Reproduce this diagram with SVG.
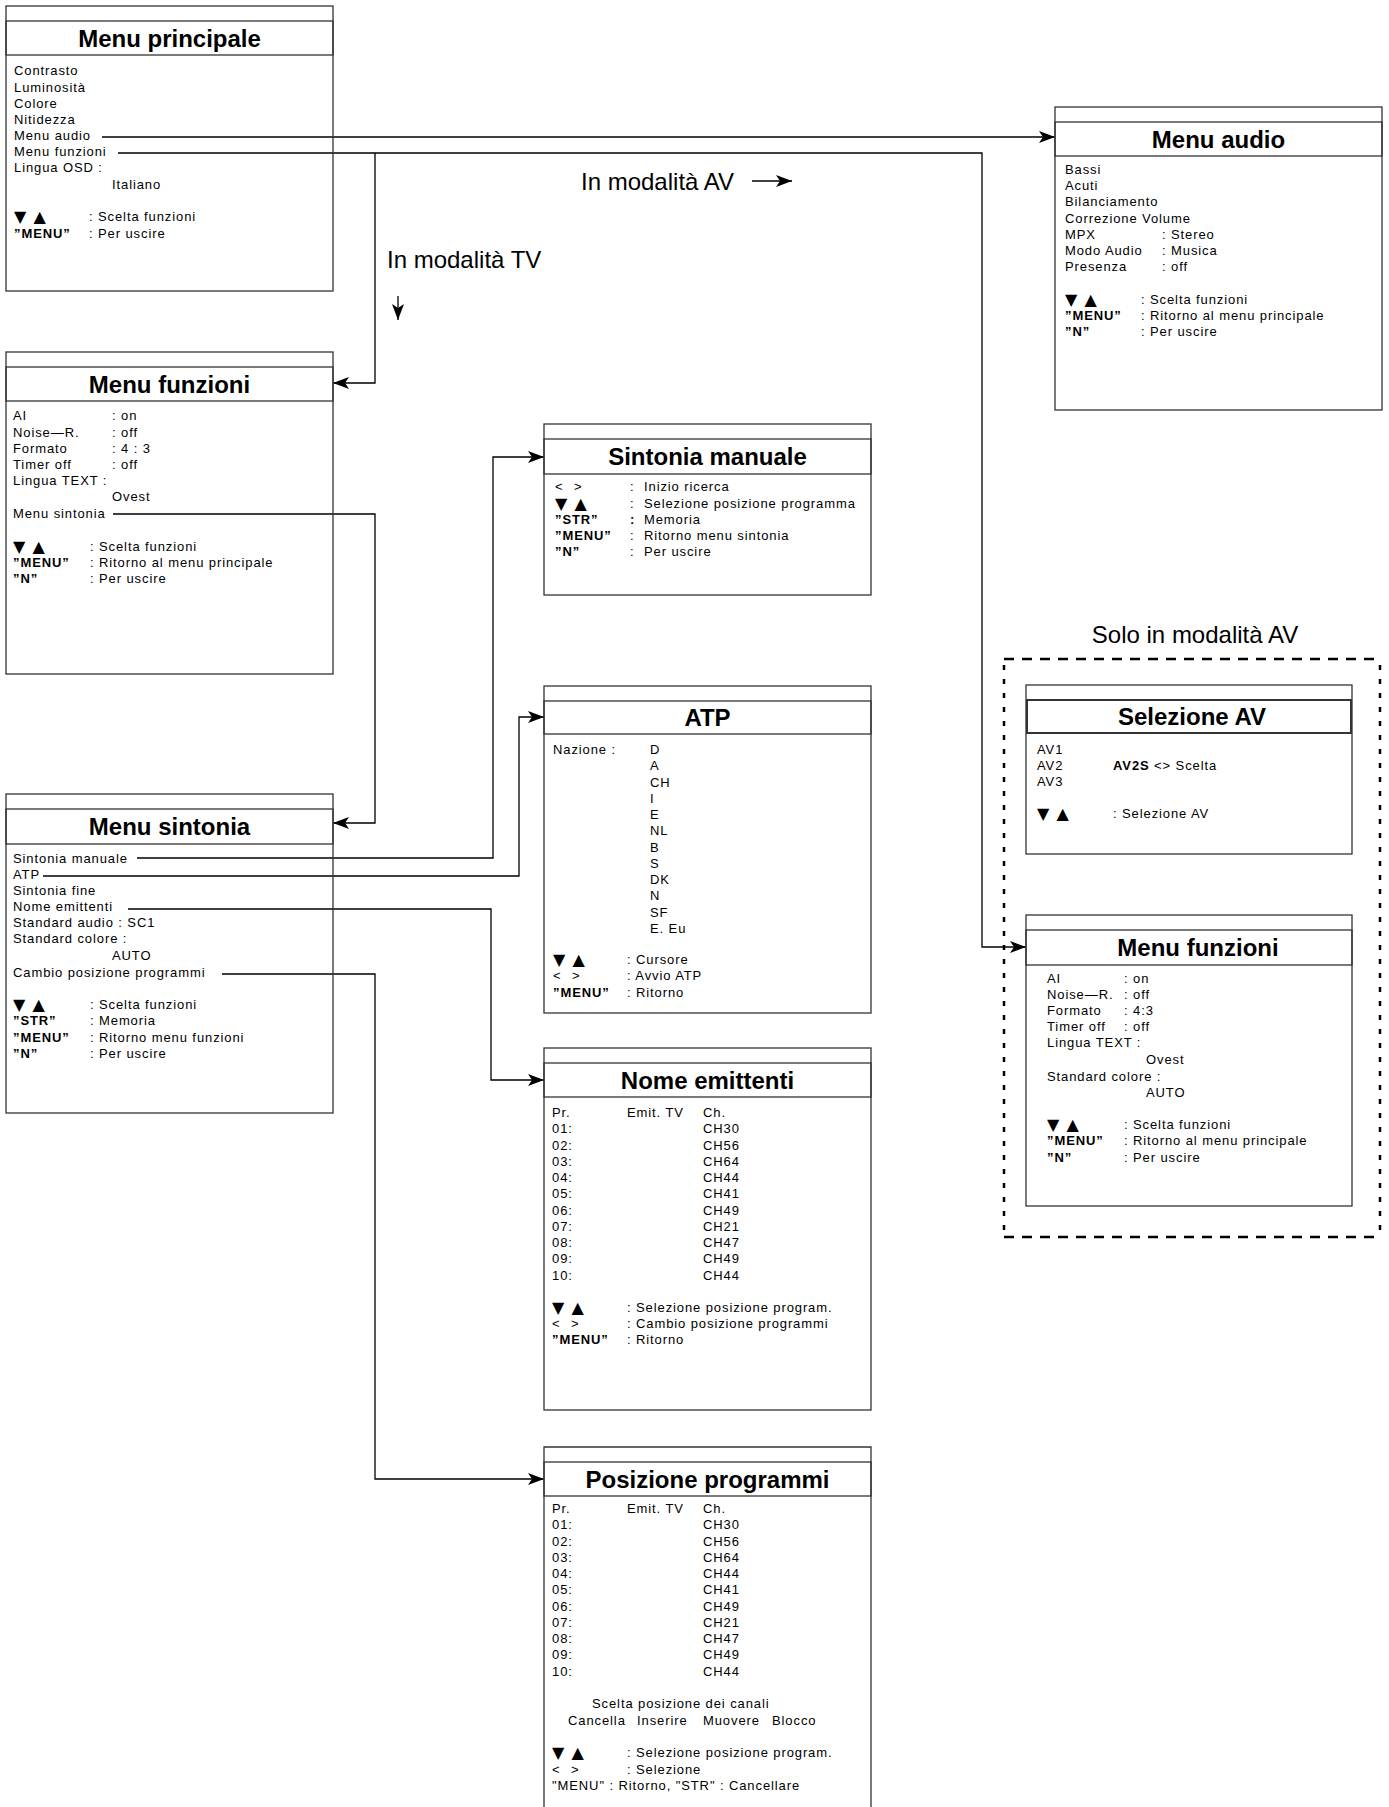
<svg xmlns="http://www.w3.org/2000/svg" width="1389" height="1807" viewBox="0 0 1389 1807">
<style>
.bx{fill:none;stroke:#333;stroke-width:1.3}
.t{font-family:"Liberation Sans",Arial,sans-serif;font-size:13px;letter-spacing:0.9px;fill:#000}
.b{font-weight:bold}
.ti{font-family:"Liberation Sans",Arial,sans-serif;font-size:24px;font-weight:bold;text-anchor:middle;fill:#000}
.big{font-family:"Liberation Sans",Arial,sans-serif;font-size:24px;fill:#000}
.tri{font-family:"DejaVu Sans",sans-serif;font-size:16px;letter-spacing:1px}
.c{fill:none;stroke:#000;stroke-width:1.3}
.dh{fill:none;stroke:#000;stroke-width:2.3;stroke-dasharray:10 8}
.dv{fill:none;stroke:#000;stroke-width:2.5;stroke-dasharray:5 9}
</style>
<defs>
<marker id="ah" markerUnits="userSpaceOnUse" markerWidth="18" markerHeight="14" refX="16" refY="6" orient="auto">
<path d="M0,0 L16,6 L0,12 L4,6 Z" fill="#000"/>
</marker>
</defs>
<rect width="1389" height="1807" fill="#fff"/>

<g id="connectors">
<path class="c" d="M102,137 H1055" marker-end="url(#ah)"/>
<path class="c" d="M118,153 H982 V947 H1026" marker-end="url(#ah)"/>
<path class="c" d="M375,153 V383 H333" marker-end="url(#ah)"/>
<path class="c" d="M113,514 H375 V823 H333" marker-end="url(#ah)"/>
<path class="c" d="M137,858 H493 V457 H544" marker-end="url(#ah)"/>
<path class="c" d="M43,876 H519 V717 H544" marker-end="url(#ah)"/>
<path class="c" d="M128,909 H491 V1080 H544" marker-end="url(#ah)"/>
<path class="c" d="M222,974 H375 V1479 H544" marker-end="url(#ah)"/>
<path class="c" d="M398,296 V320" marker-end="url(#ah)"/>
<path class="c" d="M752,181 H792" marker-end="url(#ah)"/>
</g>

<g id="labels">
<text class="big" x="581" y="190">In modalità AV</text>
<text class="big" x="387" y="268">In modalità TV</text>
<text class="big" x="1195" y="643" text-anchor="middle">Solo in modalità AV</text>
</g>

<g id="av-group">
<line class="dh" x1="1004" y1="659" x2="1380" y2="659"/>
<line class="dh" x1="1004" y1="1237" x2="1380" y2="1237"/>
<line class="dv" x1="1004" y1="665" x2="1004" y2="1233"/>
<line class="dv" x1="1380" y1="665" x2="1380" y2="1233"/>
</g>

<g id="menu-principale">
<rect class="bx" x="6" y="6" width="327" height="285"/>
<rect class="bx" x="6" y="21" width="327" height="34"/>
<text class="ti" x="169.5" y="47">Menu principale</text>
<text class="t" x="14" y="75">Contrasto</text>
<text class="t" x="14" y="92">Luminosità</text>
<text class="t" x="14" y="108">Colore</text>
<text class="t" x="14" y="124">Nitidezza</text>
<text class="t" x="14" y="140">Menu audio</text>
<text class="t" x="14" y="156">Menu funzioni</text>
<text class="t" x="14" y="172">Lingua OSD :</text>
<text class="t" x="112" y="189">Italiano</text>
<text class="t tri" x="14" y="222">▼ ▲</text>
<text class="t" x="89" y="221">: Scelta funzioni</text>
<text class="t b" x="14" y="238">”MENU”</text>
<text class="t" x="89" y="238">: Per uscire</text>
</g>

<g id="menu-funzioni">
<rect class="bx" x="6" y="352" width="327" height="322"/>
<rect class="bx" x="6" y="367" width="327" height="34"/>
<text class="ti" x="169.5" y="392.5">Menu funzioni</text>
<text class="t" x="13" y="420">AI</text><text class="t" x="112" y="420">: on</text>
<text class="t" x="13" y="437">Noise—R.</text><text class="t" x="112" y="437">: off</text>
<text class="t" x="13" y="453">Formato</text><text class="t" x="112" y="453">: 4 : 3</text>
<text class="t" x="13" y="469">Timer off</text><text class="t" x="112" y="469">: off</text>
<text class="t" x="13" y="485">Lingua TEXT :</text>
<text class="t" x="112" y="501">Ovest</text>
<text class="t" x="13" y="518">Menu sintonia</text>
<text class="t tri" x="13" y="552">▼ ▲</text>
<text class="t" x="90" y="551">: Scelta funzioni</text>
<text class="t b" x="13" y="567">”MENU”</text>
<text class="t" x="90" y="567">: Ritorno al menu principale</text>
<text class="t b" x="13" y="583">”N”</text>
<text class="t" x="90" y="583">: Per uscire</text>
</g>

<g id="menu-sintonia">
<rect class="bx" x="6" y="794" width="327" height="319"/>
<rect class="bx" x="6" y="809" width="327" height="35"/>
<text class="ti" x="169.5" y="835">Menu sintonia</text>
<text class="t" x="13" y="863">Sintonia manuale</text>
<text class="t" x="13" y="879">ATP</text>
<text class="t" x="13" y="895">Sintonia fine</text>
<text class="t" x="13" y="911">Nome emittenti</text>
<text class="t" x="13" y="927">Standard audio :  SC1</text>
<text class="t" x="13" y="943">Standard colore :</text>
<text class="t" x="112" y="960">AUTO</text>
<text class="t" x="13" y="977">Cambio posizione programmi</text>
<text class="t tri" x="13" y="1010">▼ ▲</text>
<text class="t" x="90" y="1009">: Scelta funzioni</text>
<text class="t b" x="13" y="1025">”STR”</text>
<text class="t" x="90" y="1025">: Memoria</text>
<text class="t b" x="13" y="1042">”MENU”</text>
<text class="t" x="90" y="1042">: Ritorno menu funzioni</text>
<text class="t b" x="13" y="1058">”N”</text>
<text class="t" x="90" y="1058">: Per uscire</text>
</g>

<g id="sintonia-manuale">
<rect class="bx" x="544" y="424" width="327" height="171"/>
<rect class="bx" x="544" y="439" width="327" height="35"/>
<text class="ti" x="707.5" y="465">Sintonia manuale</text>
<text class="t" y="491"><tspan x="555">&lt;</tspan><tspan x="574">&gt;</tspan></text><text class="t" x="630" y="491">:</text><text class="t" x="644" y="491">Inizio ricerca</text>
<text class="t tri" x="555" y="509">▼ ▲</text><text class="t" x="630" y="508">:</text><text class="t" x="644" y="508">Selezione posizione programma</text>
<text class="t b" x="555" y="524">”STR”</text><text class="t b" x="630" y="524">:</text><text class="t" x="644" y="524">Memoria</text>
<text class="t b" x="555" y="540">”MENU”</text><text class="t" x="630" y="540">:</text><text class="t" x="644" y="540">Ritorno menu sintonia</text>
<text class="t b" x="555" y="556">”N”</text><text class="t" x="630" y="556">:</text><text class="t" x="644" y="556">Per uscire</text>
</g>

<g id="atp">
<rect class="bx" x="544" y="686" width="327" height="327"/>
<rect class="bx" x="544" y="701" width="327" height="33"/>
<text class="ti" x="707.5" y="726">ATP</text>
<text class="t" x="553" y="754">Nazione :</text>
<text class="t" x="650" y="754">D</text>
<text class="t" x="650" y="770">A</text>
<text class="t" x="650" y="786.5">CH</text>
<text class="t" x="650" y="802.7">I</text>
<text class="t" x="650" y="819">E</text>
<text class="t" x="650" y="835">NL</text>
<text class="t" x="650" y="851.5">B</text>
<text class="t" x="650" y="867.7">S</text>
<text class="t" x="650" y="884">DK</text>
<text class="t" x="650" y="900">N</text>
<text class="t" x="650" y="916.5">SF</text>
<text class="t" x="650" y="932.7">E. Eu</text>
<text class="t tri" x="553" y="965">▼ ▲</text><text class="t" x="627" y="964">: Cursore</text>
<text class="t" y="980"><tspan x="553">&lt;</tspan><tspan x="572">&gt;</tspan></text><text class="t" x="627" y="980">: Avvio ATP</text>
<text class="t b" x="553" y="997">”MENU”</text><text class="t" x="627" y="997">: Ritorno</text>
</g>

<g id="nome-emittenti">
<rect class="bx" x="544" y="1048" width="327" height="362"/>
<rect class="bx" x="544" y="1063" width="327" height="34"/>
<text class="ti" x="707.5" y="1088.5">Nome emittenti</text>
<text class="t" x="552" y="1117">Pr.</text><text class="t" x="627" y="1117">Emit. TV</text><text class="t" x="703" y="1117">Ch.</text>
<text class="t" x="552" y="1133">01:</text><text class="t" x="703" y="1133">CH30</text>
<text class="t" x="552" y="1149.5">02:</text><text class="t" x="703" y="1149.5">CH56</text>
<text class="t" x="552" y="1165.7">03:</text><text class="t" x="703" y="1165.7">CH64</text>
<text class="t" x="552" y="1182">04:</text><text class="t" x="703" y="1182">CH44</text>
<text class="t" x="552" y="1198">05:</text><text class="t" x="703" y="1198">CH41</text>
<text class="t" x="552" y="1214.5">06:</text><text class="t" x="703" y="1214.5">CH49</text>
<text class="t" x="552" y="1230.7">07:</text><text class="t" x="703" y="1230.7">CH21</text>
<text class="t" x="552" y="1247">08:</text><text class="t" x="703" y="1247">CH47</text>
<text class="t" x="552" y="1263">09:</text><text class="t" x="703" y="1263">CH49</text>
<text class="t" x="552" y="1279.5">10:</text><text class="t" x="703" y="1279.5">CH44</text>
<text class="t tri" x="552" y="1313">▼ ▲</text><text class="t" x="627" y="1312">: Selezione posizione program.</text>
<text class="t" y="1328"><tspan x="552">&lt;</tspan><tspan x="571">&gt;</tspan></text><text class="t" x="627" y="1328">: Cambio posizione programmi</text>
<text class="t b" x="552" y="1344">”MENU”</text><text class="t" x="627" y="1344">: Ritorno</text>
</g>

<g id="posizione-programmi">
<path class="bx" d="M544,1810 V1447 H871 V1810"/>
<rect class="bx" x="544" y="1462" width="327" height="34"/>
<text class="ti" x="707.5" y="1487.5">Posizione programmi</text>
<text class="t" x="552" y="1513">Pr.</text><text class="t" x="627" y="1513">Emit. TV</text><text class="t" x="703" y="1513">Ch.</text>
<text class="t" x="552" y="1529">01:</text><text class="t" x="703" y="1529">CH30</text>
<text class="t" x="552" y="1545.5">02:</text><text class="t" x="703" y="1545.5">CH56</text>
<text class="t" x="552" y="1561.7">03:</text><text class="t" x="703" y="1561.7">CH64</text>
<text class="t" x="552" y="1578">04:</text><text class="t" x="703" y="1578">CH44</text>
<text class="t" x="552" y="1594">05:</text><text class="t" x="703" y="1594">CH41</text>
<text class="t" x="552" y="1610.5">06:</text><text class="t" x="703" y="1610.5">CH49</text>
<text class="t" x="552" y="1626.7">07:</text><text class="t" x="703" y="1626.7">CH21</text>
<text class="t" x="552" y="1643">08:</text><text class="t" x="703" y="1643">CH47</text>
<text class="t" x="552" y="1659">09:</text><text class="t" x="703" y="1659">CH49</text>
<text class="t" x="552" y="1675.5">10:</text><text class="t" x="703" y="1675.5">CH44</text>
<text class="t" x="592" y="1708">Scelta posizione dei canali</text>
<text class="t" x="568" y="1725">Cancella</text><text class="t" x="637" y="1725">Inserire</text><text class="t" x="703" y="1725">Muovere</text><text class="t" x="772" y="1725">Blocco</text>
<text class="t tri" x="552" y="1758">▼ ▲</text><text class="t" x="627" y="1757">: Selezione posizione program.</text>
<text class="t" y="1774"><tspan x="552">&lt;</tspan><tspan x="571">&gt;</tspan></text><text class="t" x="627" y="1774">: Selezione</text>
<text class="t" x="552" y="1790">"MENU" : Ritorno, "STR" : Cancellare</text>
</g>

<g id="menu-audio">
<rect class="bx" x="1055" y="107" width="327" height="303"/>
<rect class="bx" x="1055" y="122" width="327" height="34"/>
<text class="ti" x="1218.5" y="147.5">Menu audio</text>
<text class="t" x="1065" y="174">Bassi</text>
<text class="t" x="1065" y="190">Acuti</text>
<text class="t" x="1065" y="206">Bilanciamento</text>
<text class="t" x="1065" y="223">Correzione Volume</text>
<text class="t" x="1065" y="239">MPX</text><text class="t" x="1162" y="239">: Stereo</text>
<text class="t" x="1065" y="255">Modo Audio</text><text class="t" x="1162" y="255">: Musica</text>
<text class="t" x="1065" y="271">Presenza</text><text class="t" x="1162" y="271">: off</text>
<text class="t tri" x="1065" y="305">▼ ▲</text><text class="t" x="1141" y="304">: Scelta funzioni</text>
<text class="t b" x="1065" y="320">”MENU”</text><text class="t" x="1141" y="320">: Ritorno al menu principale</text>
<text class="t b" x="1065" y="336">”N”</text><text class="t" x="1141" y="336">: Per uscire</text>
</g>

<g id="selezione-av">
<rect class="bx" x="1026" y="685" width="326" height="169"/>
<rect class="bx" x="1027" y="700" width="324" height="33" style="stroke-width:2"/>
<text class="ti" x="1192" y="725">Selezione AV</text>
<text class="t" x="1037" y="754">AV1</text>
<text class="t" x="1037" y="770">AV2</text>
<text class="t" x="1113" y="770"><tspan class="b">AV2S</tspan>  &lt;&gt; Scelta</text>
<text class="t" x="1037" y="786">AV3</text>
<text class="t tri" x="1037" y="819">▼ ▲</text><text class="t" x="1113" y="818">: Selezione AV</text>
</g>

<g id="menu-funzioni-av">
<rect class="bx" x="1026" y="915" width="326" height="291"/>
<rect class="bx" x="1026" y="930" width="326" height="35"/>
<text class="ti" x="1198" y="956">Menu funzioni</text>
<text class="t" x="1047" y="983">AI</text><text class="t" x="1124" y="983">: on</text>
<text class="t" x="1047" y="999">Noise—R.</text><text class="t" x="1124" y="999">: off</text>
<text class="t" x="1047" y="1015">Formato</text><text class="t" x="1124" y="1015">: 4:3</text>
<text class="t" x="1047" y="1031">Timer off</text><text class="t" x="1124" y="1031">: off</text>
<text class="t" x="1047" y="1047">Lingua TEXT :</text>
<text class="t" x="1146" y="1064">Ovest</text>
<text class="t" x="1047" y="1081">Standard colore :</text>
<text class="t" x="1146" y="1097">AUTO</text>
<text class="t tri" x="1047" y="1130">▼ ▲</text><text class="t" x="1124" y="1129">: Scelta funzioni</text>
<text class="t b" x="1047" y="1145">”MENU”</text><text class="t" x="1124" y="1145">: Ritorno al menu principale</text>
<text class="t b" x="1047" y="1162">”N”</text><text class="t" x="1124" y="1162">: Per uscire</text>
</g>
</svg>
